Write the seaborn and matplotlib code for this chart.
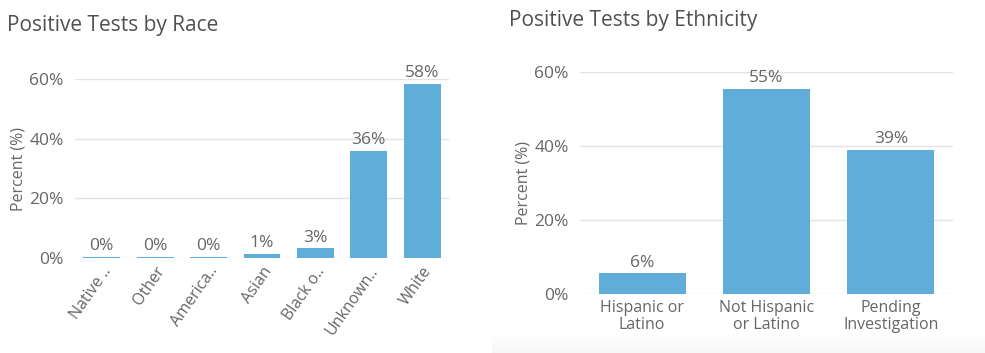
import matplotlib
matplotlib.use("Agg")
import matplotlib.pyplot as plt
import seaborn as sns
import pandas as pd
import numpy as np

# Race breakdown
race_labels = ["Native ..", "Other", "America..", "Asian", "Black o..", "Unknown..", "White"]
race_values = [0.3, 0.35, 0.3, 1.3, 3.2, 36.0, 58.4]
race_text = ["0%", "0%", "0%", "1%", "3%", "36%", "58%"]

# Ethnicity breakdown
eth_labels = ["Hispanic or\nLatino", "Not Hispanic\nor Latino", "Pending\nInvestigation"]
eth_values = [5.6, 55.4, 38.9]
eth_text = ["6%", "55%", "39%"]

y_ticks = [0, 20, 40, 60]
y_tick_labels = ["0%", "20%", "40%", "60%"]

sns.set_theme(style="white")
plt.rcParams["font.family"] = ["Open Sans", "DejaVu Sans"]

BAR = "#60ADD9"
GRID = "#e3e3e3"
TEXT = "#666666"
TITLE = "#505050"

fig = plt.figure(figsize=(9.85, 3.53), dpi=100)
fig.patch.set_facecolor("white")

# faint grey fade along the bottom of the right-hand card
shade = fig.add_axes([0.4995, 0.0, 0.5005, 0.055], zorder=-5)
grad = np.linspace(0, 1, 50).reshape(-1, 1)
shade.imshow(grad, aspect="auto", cmap="Greys", vmin=0, vmax=14,
             extent=[0, 1, 0, 1], origin="upper")
shade.set_axis_off()

ax1 = fig.add_axes([0.0761, 0.2691, 0.3797, 0.5071])
ax2 = fig.add_axes([0.5888, 0.1671, 0.3787, 0.6289])


def style_axes(ax, labels, values, texts, width):
    df = pd.DataFrame({"cat": labels, "val": values})
    sns.barplot(data=df, x="cat", y="val", color=BAR, saturation=1,
                width=width, linewidth=0, ax=ax, zorder=3)
    ax.set_ylim(0, 60)
    ax.set_yticks(y_ticks)
    ax.set_yticklabels(y_tick_labels)
    ax.grid(axis="y", color=GRID, linewidth=1, zorder=0)
    ax.set_axisbelow(True)
    ax.patch.set_alpha(0)
    for s in ax.spines.values():
        s.set_visible(False)
    ax.tick_params(axis="y", length=4, width=1, color=GRID, pad=4,
                   labelcolor=TEXT, labelsize=12.5)
    ax.tick_params(axis="x", length=0, pad=4, labelcolor=TEXT, labelsize=11.5)
    ax.set_xlabel("")
    ax.set_ylabel("Percent (%)", color=TEXT, fontsize=11.5, labelpad=2)
    for patch, t in zip(ax.patches, texts):
        x = patch.get_x() + patch.get_width() / 2
        ax.annotate(t, (x, patch.get_height()), xytext=(0, 2),
                    textcoords="offset points", ha="center", va="bottom",
                    color=TEXT, fontsize=12.5, clip_on=False)


style_axes(ax1, race_labels, race_values, race_text, 0.69)
style_axes(ax2, eth_labels, eth_values, eth_text, 0.70)

for lab in ax1.get_xticklabels():
    lab.set_rotation(55)
    lab.set_ha("right")
    lab.set_rotation_mode("anchor")
for lab in ax2.get_xticklabels():
    lab.set_linespacing(1.1)

fig.text(0.007, 0.927, "Positive Tests by Race", color=TITLE, fontsize=15,
         ha="left", va="center")
fig.text(0.517, 0.942, "Positive Tests by Ethnicity", color=TITLE, fontsize=15,
         ha="left", va="center")

fig.savefig("out.png", dpi=100, facecolor="white")
